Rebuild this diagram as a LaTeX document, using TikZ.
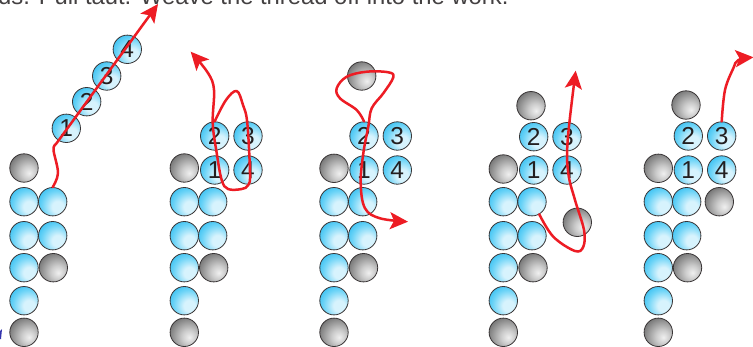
\documentclass[tikz,border=0pt]{standalone}
\usepackage{fontspec}
\setmainfont{Liberation Sans}
\usetikzlibrary{arrows.meta}
\definecolor{bluecore}{RGB}{215,243,253}
\definecolor{bluemid}{RGB}{110,212,247}
\definecolor{blueedge}{RGB}{10,175,238}
\pgfdeclareradialshading{bluefill}{\pgfpoint{10bp}{-10bp}}{color(0bp)=(bluecore); color(10bp)=(bluecore); color(26bp)=(bluemid); color(46bp)=(blueedge); color(100bp)=(blueedge)}
\pgfdeclareradialshading{grayfill}{\pgfpoint{9bp}{-9bp}}{color(0bp)=(black!6); color(12bp)=(black!20); color(35bp)=(black!55); color(58bp)=(black!75); color(100bp)=(black!75)}
\definecolor{threadred}{RGB}{237,28,36}
\definecolor{inkdark}{RGB}{35,31,32}
\tikzset{
  x=1pt,y=-1pt,
  bead/.style={circle,draw=inkdark!90,line width=0.8pt,minimum size=28.4pt,inner sep=0pt,font=\fontsize{24.5}{24.5}\selectfont,text=inkdark},
  bb/.style={bead,shading=bluefill},
  gb/.style={bead,shading=grayfill},
  thread/.style={draw=threadred,line width=2.5pt,line cap=round,line join=round},
  threadtip/.style={thread,-{Stealth[length=18pt,width=17pt,inset=4pt]}},
  caption/.style={anchor=base west,inner sep=0pt,font=\fontsize{23.8}{26}\selectfont,text=inkdark!85}
}
\begin{document}
\begin{tikzpicture}
\useasboundingbox (0,0) rectangle (753,346);
\clip (0,0) rectangle (753,346);
\fill[white] (0,0) rectangle (753,346);
\node[caption] (cap) at (-2,4) {ds. Pull taut. Weave the thread off into the work.};
\fill[blue!60!black!80!white] (0,331) -- (2,329) -- (1,339) -- (0,339) -- cycle;
% set A
\node[gb] (a0) at (24,168) {};
\node[bb] (a1) at (24,201.7) {}; \node[bb] (a2) at (52.7,201.7) {};
\node[bb] (a3) at (24,235.7) {}; \node[bb] (a4) at (52.7,235.7) {};
\node[bb] (a5) at (24,267.7) {}; \node[gb] (a6) at (53.3,267.7) {};
\node[bb] (a7) at (24,300.7) {}; \node[gb] (a8) at (24,332.3) {};
\node[bb] (an1) at (66.3,128.3) {1}; \node[bb] (an2) at (86.7,101.7) {2};
\node[bb] (an3) at (106.7,76) {3}; \node[bb] (an4) at (127.3,49.3) {4};
% set B
\node[gb] (b0) at (184.3,168) {};
\node[bb] (b1) at (184.3,201.7) {}; \node[bb] (b2) at (212.7,201.7) {};
\node[bb] (b3) at (184.3,235.7) {}; \node[bb] (b4) at (212.7,235.7) {};
\node[bb] (b5) at (184.3,267.7) {}; \node[gb] (b6) at (213.7,267.7) {};
\node[bb] (b7) at (184.3,300.7) {}; \node[gb] (b8) at (184.3,332.3) {};
\node[bb] (bn2) at (214.7,136) {2}; \node[bb] (bn3) at (248,136) {3};
\node[bb] (bn1) at (214.7,170) {1}; \node[bb] (bn4) at (248,170) {4};
% set C
\node[gb] (c0) at (334,168.3) {};
\node[bb] (c1) at (334,201.7) {}; \node[bb] (c2) at (362.7,201.7) {};
\node[bb] (c3) at (334,235.7) {}; \node[bb] (c4) at (362.7,235.7) {};
\node[bb] (c5) at (334,267.7) {}; \node[gb] (c6) at (363.5,267.7) {};
\node[bb] (c7) at (334,300.7) {}; \node[gb] (c8) at (334,332.3) {};
\node[gb] (c9) at (361.7,76) {};
\node[bb] (cn2) at (364,136) {2}; \node[bb] (cn3) at (397.3,136) {3};
\node[bb] (cn1) at (364,170) {1}; \node[bb] (cn4) at (397.3,170) {4};
% set D
\node[gb] (d0) at (503.3,169) {};
\node[bb] (d1) at (503.3,201.7) {}; \node[bb] (d2) at (532,201.7) {};
\node[bb] (d3) at (503.3,235.7) {}; \node[bb] (d4) at (532,235.7) {};
\node[bb] (d5) at (503.3,267.7) {}; \node[gb] (d6) at (533,267.7) {};
\node[bb] (d7) at (503.3,300.7) {}; \node[gb] (d8) at (503.3,332.3) {};
\node[gb] (d9) at (531,105.7) {}; \node[gb] (d10) at (577.3,222.3) {};
\node[bb] (dn2) at (533.7,136.7) {2}; \node[bb] (dn3) at (567,136.7) {3};
\node[bb] (dn1) at (533.7,170) {1}; \node[bb] (dn4) at (567,170) {4};
% set E
\node[gb] (e0) at (658.3,168.3) {};
\node[bb] (e1) at (658.3,201.7) {}; \node[bb] (e2) at (686.7,201.7) {};
\node[bb] (e3) at (658.3,235.7) {}; \node[bb] (e4) at (686.7,235.7) {};
\node[bb] (e5) at (658.3,267.7) {}; \node[gb] (e6) at (687.5,267.7) {};
\node[bb] (e7) at (658.3,300.7) {}; \node[gb] (e8) at (658.3,332.3) {};
\node[gb] (e9) at (686,105) {}; \node[gb] (e10) at (719.3,201.7) {};
\node[bb] (en2) at (688.3,136) {2}; \node[bb] (en3) at (721.7,136) {3};
\node[bb] (en1) at (688.3,170) {1}; \node[bb] (en4) at (721.7,170) {4};
% thread ends
\coordinate (tipA) at (158,4);
\coordinate (tipB) at (190.7,51.7);
\coordinate (tipC) at (408,221.7);
\coordinate (tipD) at (575.7,70.7);
\coordinate (tipE) at (753.5,57.3);
% threads
\draw[thread] plot[smooth,tension=0.6] coordinates {(a2.north) (58,173) (53.5,150) (56,144)};
\draw[threadtip] (56,144) -- (tipA);
\draw[threadtip] plot[smooth,tension=0.6] coordinates {(bn2.north) (226,100) (236.7,91) (243,105) (247.3,123) (250,173) (248.3,185) (241.7,189) (228,189) (221.7,180) (216.7,153) (212.7,123) (214,90) (208,73) (tipB)};
\draw[threadtip] plot[smooth,tension=0.6] coordinates {(cn2.north) (356.7,110) (340,98.3) (336.7,88.3) (346.7,76.7) (366.7,71.7) (388.3,72.3) (393.3,77.3) (383.3,93.3) (371.7,108.3) (368.3,126.7) (363.3,153.3) (360.7,183.3) (365,208.3) (380,218.3) (tipC)};
\draw[threadtip] plot[smooth,tension=0.6] coordinates {(d2.300) (553.3,236.7) (575,251) (583.3,246.7) (584,230) (575,200) (568.3,173.3) (567.7,140) (tipD)};
\draw[threadtip] plot[smooth,tension=0.6] coordinates {(en3.north) (725,90) (733.3,68.3) (738.3,60) (tipE)};
\end{tikzpicture}
\end{document}
